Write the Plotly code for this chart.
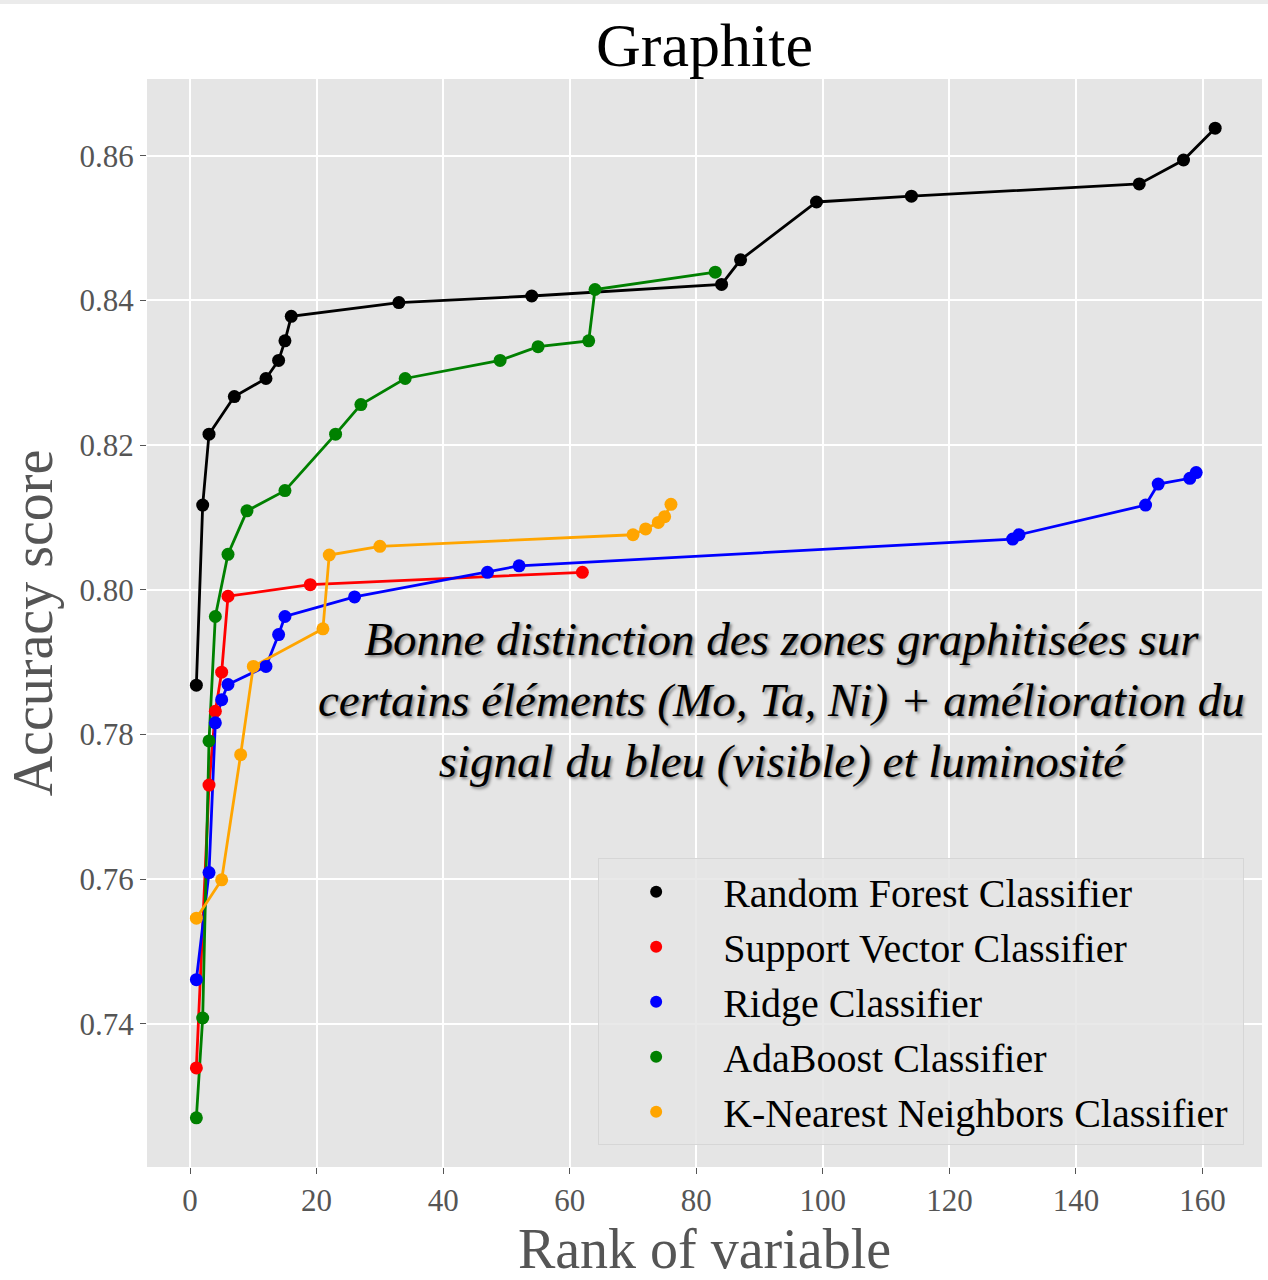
import plotly.graph_objects as go

# ---- data ----
rf_x = [1, 2, 3, 7, 12, 14, 15, 16, 33, 54, 84, 87, 99, 114, 150, 157, 162]
rf_y = [0.7868, 0.8117, 0.8215, 0.8267, 0.8292, 0.8317, 0.8344, 0.8378, 0.8397,
        0.8406, 0.8422, 0.8456, 0.8536, 0.8544, 0.8561, 0.8594, 0.8638]

svc_x = [1, 3, 4, 5, 6, 19, 62]
svc_y = [0.7339, 0.7730, 0.7832, 0.7886, 0.7991, 0.8007, 0.8024]

ridge_x = [1, 3, 4, 5, 6, 12, 14, 15, 26, 47, 52, 130, 131, 151, 153, 158, 159]
ridge_y = [0.7461, 0.7609, 0.7816, 0.7848, 0.7869, 0.7894, 0.7938, 0.7963, 0.7990,
           0.8024, 0.8033, 0.8070, 0.8076, 0.8117, 0.8146, 0.8154, 0.8162]

ada_x = [1, 2, 3, 4, 6, 9, 15, 23, 27, 34, 49, 55, 63, 64, 83]
ada_y = [0.7270, 0.7408, 0.7791, 0.7963, 0.8049, 0.8109, 0.8137, 0.8215, 0.8256,
         0.8292, 0.8317, 0.8336, 0.8344, 0.8415, 0.8439]

knn_x = [1, 5, 8, 10, 21, 22, 30, 70, 72, 74, 75, 76]
knn_y = [0.7546, 0.7599, 0.7772, 0.7894, 0.7946, 0.8048, 0.8060, 0.8076, 0.8084,
         0.8093, 0.8101, 0.8118]

names = ["Random Forest Classifier", "Support Vector Classifier", "Ridge Classifier",
         "AdaBoost Classifier", "K-Nearest Neighbors Classifier"]
colors = ["black", "red", "blue", "green", "orange"]
series = [(rf_x, rf_y), (svc_x, svc_y), (ridge_x, ridge_y), (ada_x, ada_y), (knn_x, knn_y)]

x_ticks = [0, 20, 40, 60, 80, 100, 120, 140, 160]
y_ticks = [0.74, 0.76, 0.78, 0.80, 0.82, 0.84, 0.86]
y_tick_labels = ["0.74", "0.76", "0.78", "0.80", "0.82", "0.84", "0.86"]

title_text = "Graphite"
x_title = "Rank of variable"
y_title = "Accuracy score"
note_text = ("<i>Bonne distinction des zones graphitisées sur<br>"
             "certains éléments (Mo, Ta, Ni) + amélioration du<br>"
             "signal du bleu (visible) et luminosité</i>")

FONT = "Liberation Serif, Times New Roman, serif"

fig = go.Figure()
for (xs, ys), name, col in zip(series, names, colors):
    fig.add_trace(go.Scatter(x=xs, y=ys, mode="lines", line=dict(color=col, width=2.8),
                             showlegend=False, hoverinfo="skip"))
for (xs, ys), name, col in zip(series, names, colors):
    fig.add_trace(go.Scatter(x=xs, y=ys, mode="markers", name="\u00a0" + name + "\u00a0",
                             marker=dict(color=col, size=13)))

fig.update_layout(
    width=1268, height=1280,
    margin=dict(l=147, r=6, t=79, b=113),
    paper_bgcolor="white", plot_bgcolor="#e5e5e5",
    font=dict(family=FONT, color="#555555"),
    title=dict(text=title_text, x=0.5, xref="paper", xanchor="center",
               y=1 - 44 / 1280, yanchor="middle",
               font=dict(family=FONT, size=62, color="black")),
    legend=dict(x=0.984, y=0.02, xanchor="right", yanchor="bottom",
                bgcolor="rgba(229,229,229,0.85)", bordercolor="#d6d6d6", borderwidth=1,
                font=dict(family=FONT, size=40, color="black"),
                itemwidth=104, itemsizing="constant"),
    showlegend=True,
    shapes=[dict(type="rect", xref="paper", yref="paper",
                 x0=-147 / 1115, x1=1 + 6 / 1115, y0=1 + 75 / 1088, y1=1 + 79 / 1088,
                 fillcolor="#ebebeb", line=dict(width=0), layer="below")],
)
fig.update_xaxes(range=[-6.8, 169.4], tickvals=x_ticks, showgrid=True, gridcolor="white",
                 gridwidth=1.5, zeroline=False, ticks="outside", ticklen=6, tickcolor="#555555",
                 tickfont=dict(family=FONT, size=31, color="#555555"),
                 title=dict(text=x_title, font=dict(family=FONT, size=56, color="#555555"),
                            standoff=0), showline=False)
fig.update_yaxes(range=[0.7202, 0.8706], tickvals=y_ticks, ticktext=y_tick_labels,
                 showgrid=True, gridcolor="white", gridwidth=1.5, zeroline=False,
                 ticks="outside", ticklen=6, tickcolor="#555555",
                 tickfont=dict(family=FONT, size=31, color="#555555"),
                 title=dict(text=y_title, font=dict(family=FONT, size=56, color="#555555"),
                            standoff=8), showline=False)

fig.add_annotation(x=93.4, y=0.7847, xref="x", yref="y", text=note_text, showarrow=False,
                   align="center", xanchor="center", yanchor="middle",
                   font=dict(family=FONT, size=47, color="black",
                             shadow="2px 2px 3px rgba(0,0,0,0.45)"))

fig.write_html("out.html")
